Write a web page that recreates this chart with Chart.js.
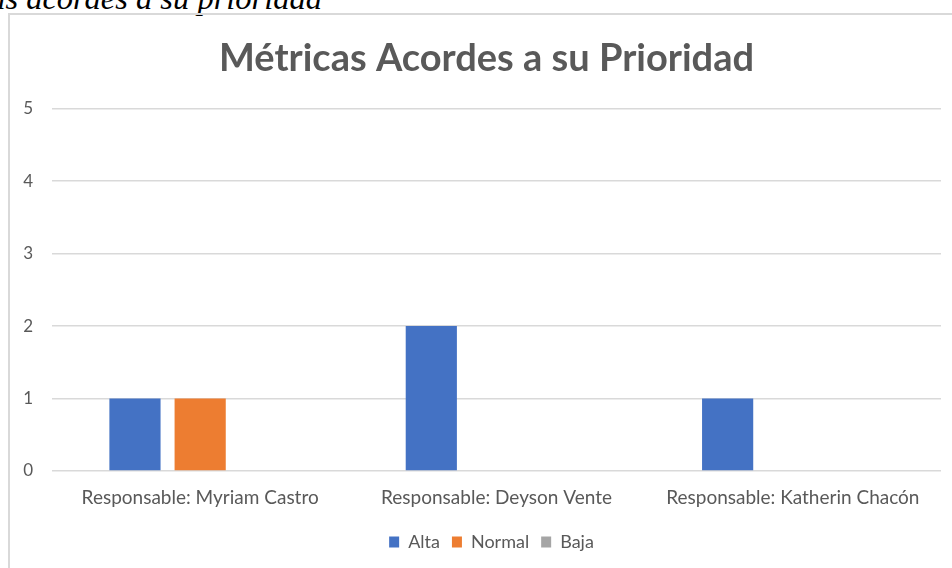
<!DOCTYPE html>
<html lang="es">
<head>
<meta charset="utf-8">
<title>Métricas Acordes a su Prioridad</title>
<script src="https://cdn.jsdelivr.net/npm/chart.js@4.4.1/dist/chart.umd.min.js"></script>
<style>
    html, body { margin: 0; padding: 0; background: #fff; }
    body { width: 952px; height: 568px; position: relative; overflow: hidden; }
    .caption {
        position: absolute;
        right: 630px;
        top: -20px;
        font-family: "Liberation Serif", "Times New Roman", serif;
        font-style: italic;
        font-size: 32.5px;
        white-space: nowrap;
        color: #000;
    }
    .marco {
        position: absolute;
        left: 8px;
        top: 13px;
        width: 960px;
        height: 580px;
        border: 2px solid #d9d9d9;
        box-sizing: border-box;
    }
    #graficoPrioridad { position: absolute; left: 0; top: 0; }
</style>
</head>
<body>
<div class="caption">Figura 3. Métricas acordes a su prioridad</div>
<div class="marco"></div>
<canvas id="graficoPrioridad" width="952" height="568"></canvas>
<script>
// Responsables y cantidad de métricas por prioridad
const responsables = ['Responsable: Myriam Castro', 'Responsable: Deyson Vente', 'Responsable: Katherin Chacón'];
const altaData = [1, 2, 1];
const normalData = [1, 0, 0];
const bajaData = [0, 0, 0];

const gris = '#595959';

// corre título y leyenda un poco a la derecha, centrados sobre el marco
const centrarEnMarco = {
    id: 'centrarEnMarco',
    afterLayout(chart) {
        if (chart.titleBlock) {
            chart.titleBlock.left += 22;
        }
        if (chart.legend) {
            chart.legend.left += 32;
        }
    }
};

const ctx = document.getElementById('graficoPrioridad').getContext('2d');
const graficoPrioridad = new Chart(ctx, {
    type: 'bar',
    data: {
        labels: responsables,
        datasets: [
            {
                label: 'Alta',
                data: altaData,
                backgroundColor: '#4472C4'
            },
            {
                label: 'Normal',
                data: normalData,
                backgroundColor: '#ED7D31'
            },
            {
                label: 'Baja',
                data: bajaData,
                backgroundColor: '#A5A5A5'
            }
        ]
    },
    plugins: [centrarEnMarco],
    options: {
        responsive: false,
        animation: false,
        datasets: {
            bar: {
                categoryPercentage: 0.66,
                barPercentage: 0.785
            }
        },
        layout: {
            padding: { left: 10, right: 11, top: 36, bottom: 7 }
        },
        plugins: {
            title: {
                display: true,
                text: 'Métricas Acordes a su Prioridad',
                color: gris,
                font: { family: 'Lato', size: 38, weight: 'bold' },
                padding: { top: 0, bottom: 27 }
            },
            legend: {
                position: 'bottom',
                labels: {
                    color: gris,
                    font: { family: 'Lato', size: 18 },
                    boxWidth: 10,
                    boxHeight: 11,
                    padding: 12
                }
            },
            tooltip: { enabled: false }
        },
        scales: {
            x: {
                afterFit: (scale) => { scale.height = 50; },
                grid: { display: false },
                border: { display: false },
                ticks: {
                    color: gris,
                    font: { family: 'Lato', size: 19 },
                    padding: 7,
                    maxRotation: 0
                }
            },
            y: {
                min: 0,
                max: 5,
                afterFit: (scale) => { scale.width = 42; },
                grid: { color: '#d9d9d9', lineWidth: 1.5, drawTicks: false },
                border: { display: false },
                ticks: {
                    stepSize: 1,
                    color: gris,
                    font: { family: 'Lato', size: 17 },
                    padding: 19
                }
            }
        }
    }
});
</script>
</body>
</html>
